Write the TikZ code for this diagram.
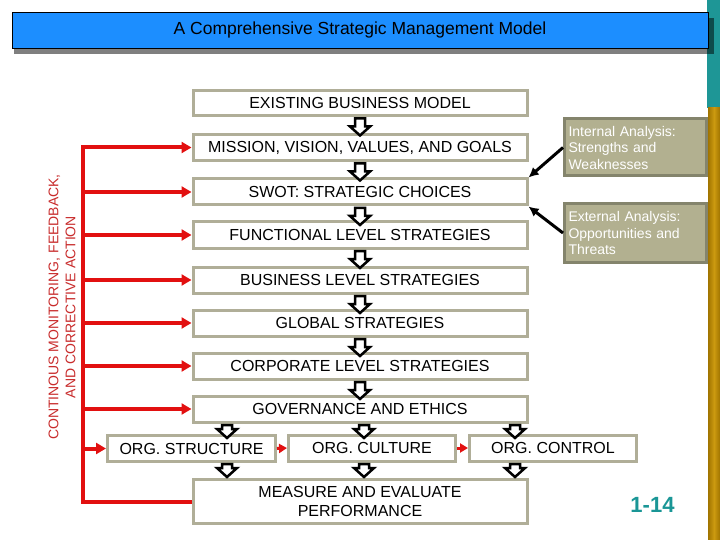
\documentclass[tikz,border=0pt]{standalone}
\usepackage{fontspec}
\setmainfont{Liberation Sans}
\usetikzlibrary{arrows.meta}
\definecolor{boxgray}{RGB}{176,174,152}
\definecolor{anafill}{RGB}{178,176,144}
\definecolor{anaedge}{RGB}{132,132,108}
\definecolor{fbred}{RGB}{226,16,16}
\definecolor{fbtext}{RGB}{200,44,44}
\definecolor{titleblue}{RGB}{28,142,255}
\definecolor{sideteal}{RGB}{30,150,150}
\definecolor{golddark}{RGB}{160,116,0}
\definecolor{goldmid}{RGB}{204,154,16}
\definecolor{pageteal}{RGB}{26,150,150}

\tikzset{
    stage/.style={draw=boxgray, line width=3pt, fill=white, inner sep=0pt,
        minimum width=334pt, minimum height=26pt,
        font=\fontsize{16}{19}\selectfont},
    orgbox/.style={stage, minimum width=167pt},
    analysis/.style={draw=anaedge, fill=anafill, line width=3pt, inner sep=0pt,
        minimum width=142pt, minimum height=57pt, text width=134pt,
        align=left, text=white, font=\fontsize{14}{16.5}\selectfont},
    feedback/.style={draw=fbred, line width=4pt,
        -{Triangle[length=10pt,width=11pt]}},
    linkarrow/.style={draw=fbred, line width=3pt,
        -{Triangle[length=8pt,width=9pt]}},
    inarrow/.style={draw=black, line width=3pt,
        -{Latex[length=10pt,width=10pt]}},
    blkarrow/.style={draw=black, line width=2.5pt, fill=white, line join=miter}
}

% hollow block arrow pointing down, hung below a point
\newcommand{\blkdown}[2]{\draw[blkarrow] (#1) ++(-5,1.5) -- ++(0,#2) -- ++(-5,0)
    -- ++(10,9) -- ++(10,-9) -- ++(-5,0) -- ++(0,-#2) -- cycle;}

\begin{document}
\begin{tikzpicture}[x=1pt,y=-1pt]
    \useasboundingbox (0,0) rectangle (720,540);

    % side bars and title bar
    \fill[sideteal] (707,0) rectangle (720,108);
    \shade[left color=golddark, right color=golddark, middle color=goldmid]
        (708,108) rectangle (720,540);
    \fill[black,opacity=0.5] (14,18) rectangle (714,54);
    \node[draw=black, thin, fill=titleblue, minimum width=696pt, minimum height=36pt,
        inner sep=0pt, font=\fontsize{17.5}{19}\selectfont] (title) at (360,30)
        {A Comprehensive Strategic Management Model};

    % main column
    \node[stage, minimum height=25pt] (exist) at (360,103) {EXISTING BUSINESS MODEL};
    \node[stage] (mission) at (360,147.5) {MISSION, VISION, VALUES, AND GOALS};
    \node[stage] (swot) at (360,192) {SWOT: STRATEGIC CHOICES};
    \node[stage] (func) at (360,235) {FUNCTIONAL LEVEL STRATEGIES};
    \node[stage] (bus) at (360,280) {BUSINESS LEVEL STRATEGIES};
    \node[stage] (glob) at (360,323) {GLOBAL STRATEGIES};
    \node[stage] (corp) at (360,366) {CORPORATE LEVEL STRATEGIES};
    \node[stage] (gov) at (360,409) {GOVERNANCE AND ETHICS};

    \node[orgbox, minimum width=168pt] (struct) at (191.5,448.5) {ORG. STRUCTURE};
    \node[orgbox] (cult) at (372,448) {ORG. CULTURE};
    \node[orgbox] (ctrl) at (553,448) {ORG. CONTROL};

    \node[stage, minimum height=44pt, align=center] (meas) at (360,501.5)
        {MEASURE AND EVALUATE\\PERFORMANCE};

    % analysis boxes
    \node[analysis] (internal) at (635.5,147.5)
        {Internal Analysis:\\Strengths and\\Weaknesses};
    \node[analysis, minimum height=58pt] (external) at (635.5,233)
        {External Analysis:\\Opportunities and\\Threats};

    \draw[inarrow] (internal.west) -- (swot.north east);
    \draw[inarrow] (external.west) -- (swot.south east);

    % block arrows
    \foreach \a/\b in {exist/mission, mission/swot, swot/func, func/bus,
                       bus/glob, glob/corp, corp/gov}
        \blkdown{\a.south}{8}
    \coordinate (c1) at (227,0);
    \coordinate (c2) at (364,0);
    \coordinate (c3) at (515,0);
    \foreach \c in {c1,c2,c3} {
        \blkdown{\c |- gov.south}{4}
        \blkdown{\c |- cult.south}{4}
    }

    \draw[linkarrow] (struct.east) -- (cult.west);
    \draw[linkarrow] (cult.east) -- (ctrl.west);

    % feedback loop
    \coordinate (spine) at (83,0);
    \draw[feedback] (meas.west) -- (spine |- meas.west)
        -- (spine |- mission.west) -- (mission.west);
    \foreach \b in {swot,func,bus,glob,corp,gov,struct}
        \draw[feedback] (spine |- \b.west) -- (\b.west);

    \node[rotate=90, align=center, text=fbtext, font=\fontsize{14}{17}\selectfont]
        (fblabel) at (62,307)
        {CONTINOUS MONITORING, FEEDBACK,\\AND CORRECTIVE ACTION};

    \node[text=pageteal, font=\bfseries\fontsize{22}{24}\selectfont] (pnum)
        at (652.5,505) {1-14};
\end{tikzpicture}
\end{document}
